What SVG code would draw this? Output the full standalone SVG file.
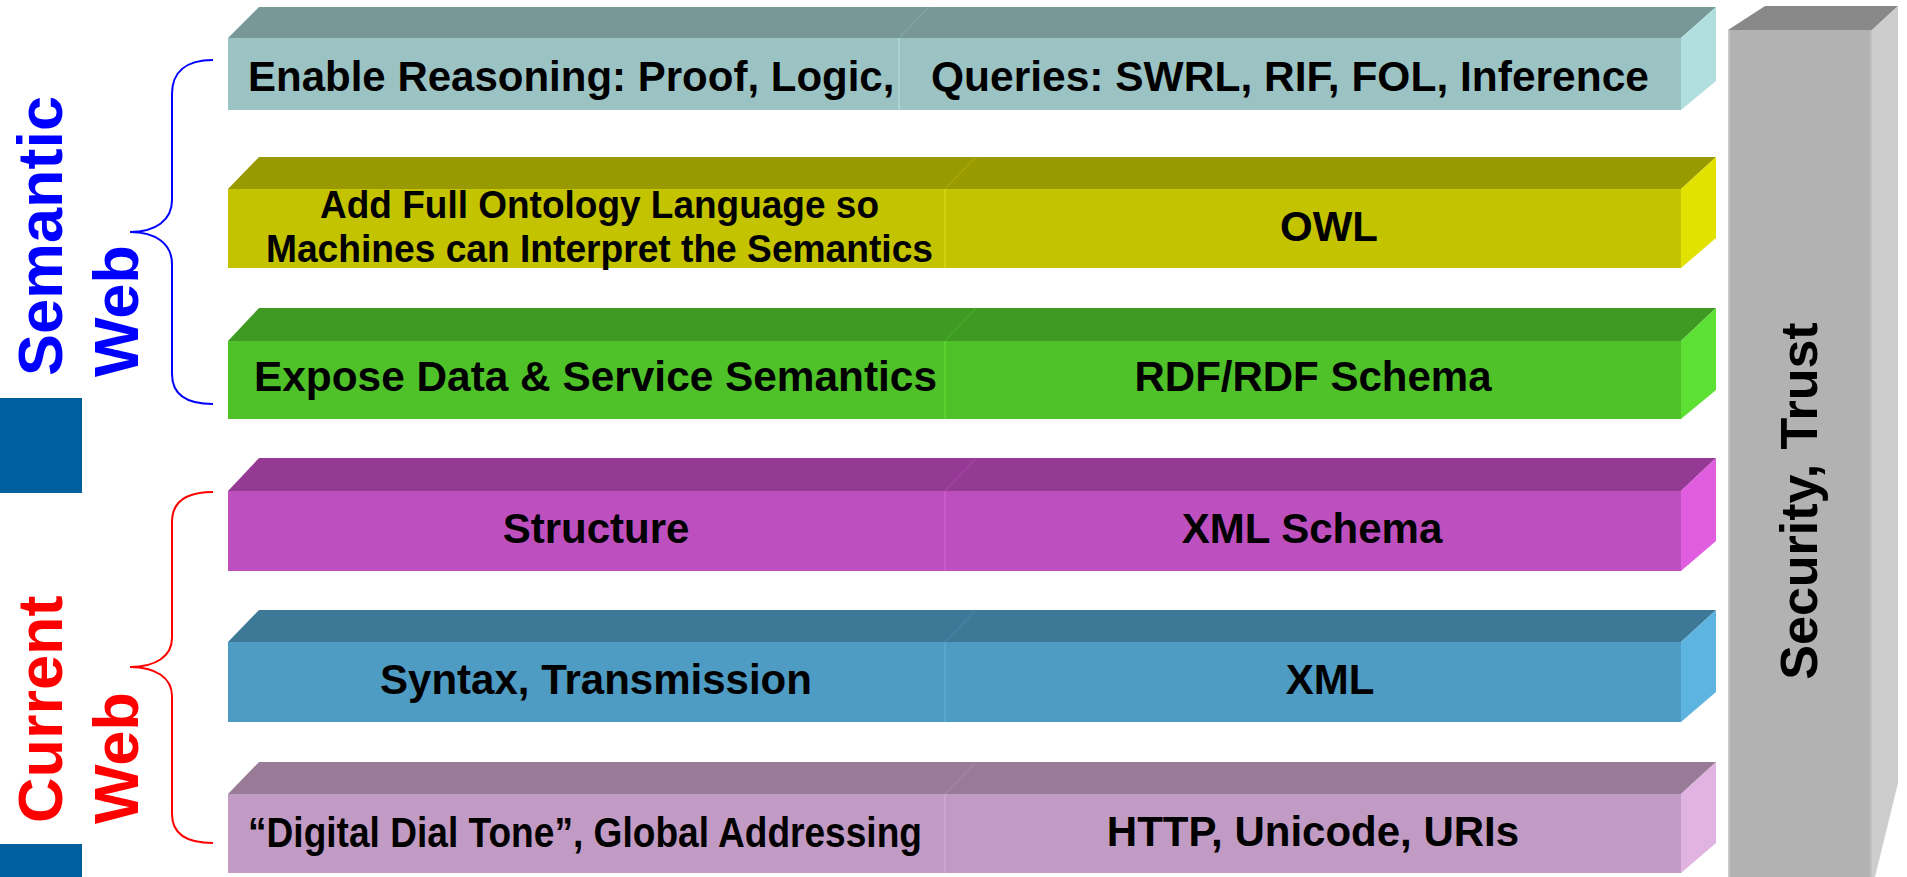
<svg xmlns="http://www.w3.org/2000/svg" width="1907" height="877" viewBox="0 0 1907 877">
<style>
.t{font-family:"Liberation Sans",Arial,sans-serif;font-weight:bold;font-size:42px;fill:#000}
.lbl{font-family:"Liberation Sans",Arial,sans-serif;font-weight:bold;font-size:63px}
.div{stroke-width:1.5;opacity:0.7}
.brace{fill:none;stroke-width:2}
</style>
<rect width="1907" height="877" fill="#fff"/>
<!-- left decoration -->
<rect x="0" y="398" width="82" height="95" fill="#005F9F"/>
<rect x="0" y="844" width="82" height="33" fill="#005F9F"/>
<g id="label-semantic">
<text class="lbl" fill="#0000FF" transform="translate(62,376) rotate(-90)">Semantic</text>
<text class="lbl" fill="#0000FF" transform="translate(138,377) rotate(-90)">Web</text>
</g>
<g id="label-current">
<text class="lbl" fill="#FF0000" transform="translate(62,823) rotate(-90)">Current</text>
<text class="lbl" fill="#FF0000" transform="translate(138,824) rotate(-90)">Web</text>
</g>
<g id="connectors">
<path class="brace" stroke="#0000FF" d="M213,60 C186,60 172,72 172,94 L172,200 C172,220 156,232 130,232 C156,232 172,244 172,264 L172,374 C172,394 186,404 213,404"/>
<path class="brace" stroke="#FF0000" d="M213,492 C186,492 172,502 172,522 L172,638 C172,656 156,667 130,667 C156,667 172,678 172,696 L172,814 C172,834 186,843 213,843"/>
</g>
<!-- Box 1 -->
<g id="layer-reasoning">
<polygon points="228,38 259,7 1716,7 1681,38" fill="#789898"/>
<polygon points="1681,38 1716,7 1716,81 1681,110" fill="#B1DFDF"/>
<rect x="228" y="38" width="1453" height="72" fill="#9CC3C3"/>
<line class="div" x1="899" y1="38" x2="899" y2="110" stroke="#B8E0E0"/>
<line class="div" x1="899" y1="38" x2="929" y2="7" stroke="#8AABAB"/>
<text class="t" x="248" y="91">Enable Reasoning: Proof, Logic,</text>
<text class="t" x="931" y="91" textLength="718" lengthAdjust="spacingAndGlyphs">Queries: SWRL, RIF, FOL, Inference</text>
</g>
<!-- Box 2 -->
<g id="layer-owl">
<polygon points="228,189 259,157 1716,157 1681,189" fill="#999900"/>
<polygon points="1681,189 1716,157 1716,238 1681,268" fill="#E2E200"/>
<rect x="228" y="189" width="1453" height="79" fill="#C4C300"/>
<line class="div" x1="945" y1="189" x2="945" y2="268" stroke="#E0E020"/>
<line class="div" x1="945" y1="189" x2="976" y2="157" stroke="#AEAE10"/>
<text class="t" x="599.5" y="218" text-anchor="middle" style="font-size:39px" textLength="559" lengthAdjust="spacingAndGlyphs">Add Full Ontology Language so</text>
<text class="t" x="599.5" y="262" text-anchor="middle" style="font-size:39px" textLength="667" lengthAdjust="spacingAndGlyphs">Machines can Interpret the Semantics</text>
<text class="t" x="1329" y="241" text-anchor="middle">OWL</text>
</g>
<!-- Box 3 -->
<g id="layer-rdf">
<polygon points="228,341 259,308 1716,308 1681,341" fill="#3E9A22"/>
<polygon points="1681,341 1716,308 1716,390 1681,419" fill="#5DE034"/>
<rect x="228" y="341" width="1453" height="78" fill="#4FC22A"/>
<line class="div" x1="945" y1="341" x2="945" y2="419" stroke="#66DD3A"/>
<line class="div" x1="945" y1="341" x2="976" y2="308" stroke="#4AB02A"/>
<text class="t" x="254" y="391" textLength="683" lengthAdjust="spacingAndGlyphs">Expose Data &amp; Service Semantics</text>
<text class="t" x="1313" y="391" text-anchor="middle">RDF/RDF Schema</text>
</g>
<!-- Box 4 -->
<g id="layer-structure">
<polygon points="228,491 259,458 1716,458 1681,491" fill="#953A94"/>
<polygon points="1681,491 1716,458 1716,541 1681,571" fill="#E05DE0"/>
<rect x="228" y="491" width="1453" height="80" fill="#BE4FBE"/>
<line class="div" x1="945" y1="491" x2="945" y2="571" stroke="#D466D4"/>
<line class="div" x1="945" y1="491" x2="976" y2="458" stroke="#A84AA8"/>
<text class="t" x="596" y="543" text-anchor="middle">Structure</text>
<text class="t" x="1312" y="543" text-anchor="middle">XML Schema</text>
</g>
<!-- Box 5 -->
<g id="layer-syntax">
<polygon points="228,642 259,610 1716,610 1681,642" fill="#3D7897"/>
<polygon points="1681,642 1716,610 1716,692 1681,722" fill="#5EB4E0"/>
<rect x="228" y="642" width="1453" height="80" fill="#4E9BC3"/>
<line class="div" x1="945" y1="642" x2="945" y2="722" stroke="#62B0D8"/>
<line class="div" x1="945" y1="642" x2="976" y2="610" stroke="#4A8AAA"/>
<text class="t" x="596" y="694" text-anchor="middle">Syntax, Transmission</text>
<text class="t" x="1330" y="694" text-anchor="middle">XML</text>
</g>
<!-- Box 6 -->
<g id="layer-addressing">
<polygon points="228,794 259,762 1716,762 1681,794" fill="#997A97"/>
<polygon points="1681,794 1716,762 1716,843 1681,873" fill="#E0B3E0"/>
<rect x="228" y="794" width="1453" height="79" fill="#C19BC3"/>
<line class="div" x1="945" y1="794" x2="945" y2="873" stroke="#D6B2D8"/>
<line class="div" x1="945" y1="794" x2="976" y2="762" stroke="#AA8AAA"/>
<text class="t" x="248" y="847" style="font-size:43px" textLength="674" lengthAdjust="spacingAndGlyphs">“Digital Dial Tone”, Global Addressing</text>
<text class="t" x="1313" y="846" text-anchor="middle">HTTP, Unicode, URIs</text>
</g>
<!-- Security column -->
<g id="security-trust">
<polygon points="1728,30 1765,6 1898,6 1872,30" fill="#898989"/>
<polygon points="1872,30 1898,6 1898,783 1875,877 1872,877" fill="#CDCDCD"/>
<rect x="1728" y="30" width="144" height="847" fill="#B2B2B2"/>
<line x1="1729" y1="30" x2="1729" y2="877" stroke="#C6C6C6" stroke-width="2"/>
<line x1="1871" y1="30" x2="1871" y2="877" stroke="#C0C0C0" stroke-width="2"/>
<text class="t" style="font-size:52px" text-anchor="middle" transform="translate(1817,501) rotate(-90)">Security, Trust</text>
</g>
</svg>
